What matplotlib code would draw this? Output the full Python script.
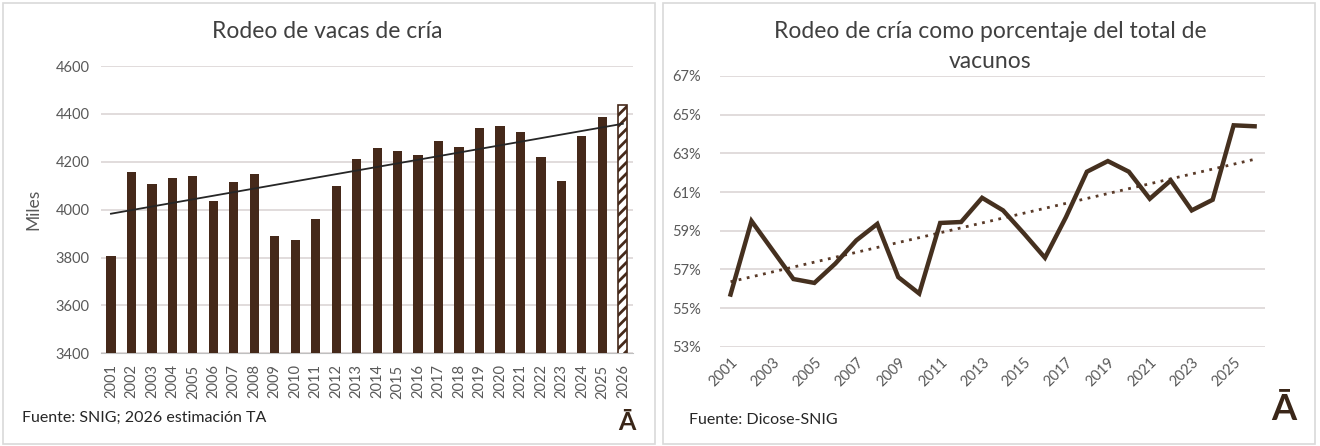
import numpy as np
import matplotlib
matplotlib.use("Agg")
import matplotlib.pyplot as plt
from matplotlib.patches import Rectangle

# data
years = list(range(2001, 2027))
vacas_cria = [3805, 4157, 4106, 4131, 4141, 4037, 4116, 4148, 3891, 3873,
              3960, 4099, 4212, 4259, 4245, 4230, 4287, 4262, 4341, 4351,
              4323, 4219, 4120, 4308, 4387, 4436]  # miles; 2026 = estimación
pct_cria = [55.7, 59.5, 58.0, 56.5, 56.3, 57.3, 58.5, 59.35, 56.6, 55.75,
            59.4, 59.45, 60.7, 60.05, 58.85, 57.6, 59.7, 62.05, 62.6, 62.05,
            60.65, 61.6, 60.05, 60.6, 64.45, 64.4]

BROWN = "#45291a"
GRID = "#dcd6d6"
TXT = "#595959"

plt.rcParams["font.family"] = ["Lato", "DejaVu Sans"]
plt.rcParams["hatch.linewidth"] = 2.0

fig = plt.figure(figsize=(13.2, 4.46), dpi=100)

# panel frames
for x0 in (3, 663):
    fig.patches.append(Rectangle((x0 / 1320, 2 / 446), 652 / 1320, 441 / 446,
                                 transform=fig.transFigure, fill=False,
                                 edgecolor="#d9d9d9", lw=1.2))

# ---- left: bar chart ----
ax1 = fig.add_axes([0.0763, 0.2078, 0.4033, 0.6442])
x = np.arange(len(years))
ax1.bar(x[:-1], vacas_cria[:-1], width=0.45, color=BROWN, zorder=3)
ax1.bar(x[-1], vacas_cria[-1], width=0.45, color="white", edgecolor=BROWN,
        hatch="///", lw=1.2, zorder=3)
coef = np.polyfit(x, vacas_cria, 1)
ax1.plot(x, np.polyval(coef, x), color="#262626", lw=1.3, zorder=4)
ax1.set_xlim(-0.5, len(years) - 0.5)
ax1.set_ylim(3400, 4600)
ax1.set_yticks(range(3400, 4601, 200))
ax1.set_xticks(x)
ax1.set_xticklabels([str(y) for y in years], rotation=90)
ax1.grid(axis="y", color=GRID, lw=1.2, zorder=0)
for s in ("top", "right", "left"):
    ax1.spines[s].set_visible(False)
ax1.spines["bottom"].set_color("#bfbfbf")
ax1.tick_params(length=0, labelsize=10.5, colors=TXT, pad=8)
ax1.set_ylabel("Miles", fontsize=12.5, color=TXT, labelpad=10)
fig.text(327 / 1320, 1 - 32 / 446, "Rodeo de vacas de cría", ha="center",
         va="center", fontsize=16.5, color="#404040")
fig.text(22 / 1320, 1 - 418 / 446, "Fuente: SNIG; 2026 estimación TA",
         ha="left", va="center", fontsize=11.5, color="#262626")
fig.text(627 / 1320, 1 - 423 / 446, "Ā", ha="center", va="center",
         fontsize=18, fontweight="bold", color="#3a2618")

# ---- right: line chart ----
ax2 = fig.add_axes([0.5455, 0.2226, 0.4129, 0.607])
ax2.plot(x, pct_cria, color="#45301f", lw=3.2, zorder=3,
         solid_joinstyle="miter")
coef2 = np.polyfit(x, pct_cria, 1)
ax2.plot(x, np.polyval(coef2, x), color="#5a3a28", lw=2, ls=(0, (1, 2)),
         zorder=2)
ax2.set_xlim(-0.5, len(years) - 0.5)
ax2.set_ylim(53, 67)
ax2.set_yticks(range(53, 68, 2))
ax2.set_yticklabels([f"{v}%" for v in range(53, 68, 2)])
ax2.set_xticks(x[::2])
ax2.set_xticklabels([str(y) for y in years[::2]], rotation=45, ha="right",
                    rotation_mode="anchor")
ax2.grid(axis="y", color=GRID, lw=1.2, zorder=0)
for s in ax2.spines.values():
    s.set_visible(False)
ax2.tick_params(length=0, labelsize=10.5, colors=TXT)
ax2.tick_params(axis="y", pad=14)
ax2.tick_params(axis="x", pad=6)
fig.text(990 / 1320, 1 - 32 / 446, "Rodeo de cría como porcentaje del total de",
         ha="center", va="center", fontsize=16.5, color="#404040")
fig.text(990 / 1320, 1 - 62 / 446, "vacunos",
         ha="center", va="center", fontsize=16.5, color="#404040")
fig.text(689 / 1320, 1 - 420 / 446, "Fuente: Dicose-SNIG", ha="left",
         va="center", fontsize=11.5, color="#262626")
fig.text(1284 / 1320, 1 - 410 / 446, "Ā", ha="center", va="center",
         fontsize=26, fontweight="bold", color="#3a2618")

fig.savefig("out.png", dpi=100)
